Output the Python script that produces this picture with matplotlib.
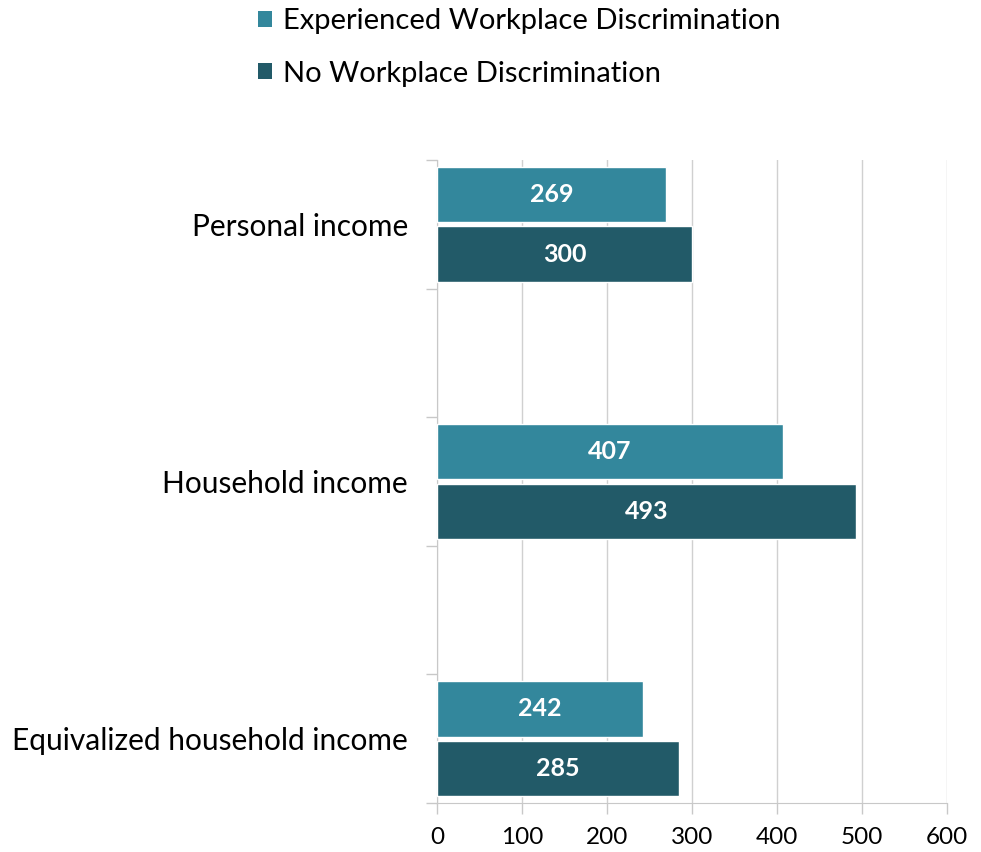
import matplotlib.pyplot as plt
from matplotlib.patches import Patch
from matplotlib.ticker import MultipleLocator

plt.rcParams['font.family'] = ['Lato', 'DejaVu Sans']

categories = ['Personal income', 'Household income', 'Equivalized household income']
experienced = [269, 407, 242]
no_discrim = [300, 493, 285]
series_names = ['Experienced Workplace Discrimination', 'No Workplace Discrimination']
colors = ['#33879c', '#225a68']

fig = plt.figure(figsize=(9.81, 8.52), dpi=100)
ax = fig.add_axes([0.4455, 0.0575, 0.5198, 0.7547])

# each category sits in its own slot with an empty slot between
pos = [2 * i for i in range(len(categories))]
off = 0.232
h = 0.43

b1 = ax.barh([p - off for p in pos], experienced, height=h, color=colors[0],
             edgecolor='white', linewidth=1, zorder=3)
b2 = ax.barh([p + off for p in pos], no_discrim, height=h, color=colors[1],
             edgecolor='white', linewidth=1, zorder=3)

for bars in (b1, b2):
    ax.bar_label(bars, labels=[str(int(b.get_width())) for b in bars],
                 label_type='center', color='white', fontsize=18,
                 fontweight='bold')

ax.set_xlim(0, 600)
ax.set_ylim(4.5, -0.5)
ax.xaxis.set_major_locator(MultipleLocator(100))
ax.grid(axis='x', color='#d0d0d0', linewidth=1, zorder=0)

ax.set_yticks(pos)
ax.set_yticklabels(categories)
ax.yaxis.set_minor_locator(MultipleLocator(1, offset=0.5))
ax.tick_params(axis='y', which='major', length=0, pad=21, labelsize=21.5)
ax.tick_params(axis='y', which='minor', length=8, color='#c8c8c8', width=1)
ax.tick_params(axis='x', length=8, color='#c8c8c8', width=1, labelsize=17.5,
               pad=9)

for side in ('top', 'right'):
    ax.spines[side].set_visible(False)
for side in ('left', 'bottom'):
    ax.spines[side].set_color('#c8c8c8')

handles = [Patch(facecolor=c, edgecolor='none') for c in colors]
fig.legend(handles, series_names, loc='upper left',
           bbox_to_anchor=(0.236, 1.021), frameon=False, fontsize=21,
           handlelength=0.48, handleheight=0.48, handletextpad=0.38,
           labelspacing=0.9)

fig.savefig('out.png', dpi=100)
